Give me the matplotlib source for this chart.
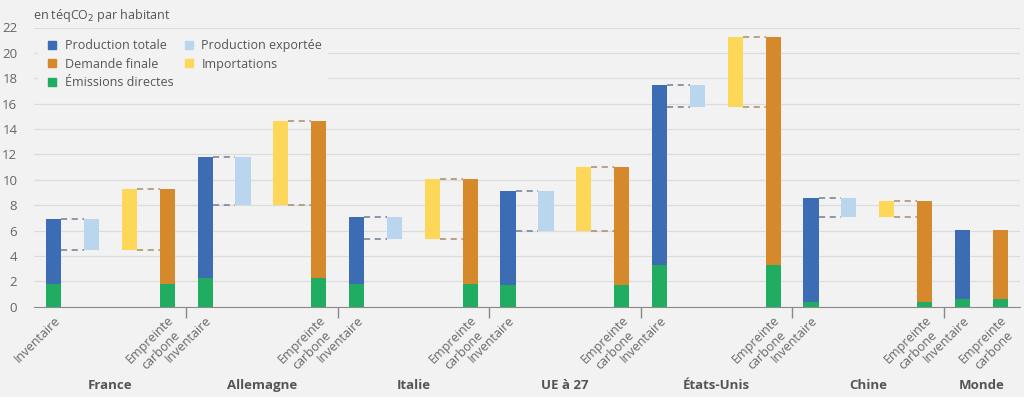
import matplotlib.pyplot as plt
import matplotlib.transforms as mtransforms
from matplotlib.lines import Line2D

plt.rcParams['font.family'] = ['Open Sans', 'DejaVu Sans']

# valeurs (téqCO2 par habitant)
pays = ['France', 'Allemagne', 'Italie', 'UE à 27', 'États-Unis', 'Chine', 'Monde']
production_totale = [6.9, 11.8, 7.05, 9.15, 17.5, 8.6, 6.05]
emissions_directes = [1.8, 2.3, 1.8, 1.7, 3.3, 0.4, 0.6]
production_domestique = [4.45, 8.0, 5.3, 5.95, 15.75, 7.1, None]
demande_finale = [9.3, 14.6, 10.05, 11.0, 21.25, 8.35, 6.05]

BLEU = '#3b6cb4'
BLEU_CLAIR = '#bad6ee'
ORANGE = '#d5892a'
JAUNE = '#fdd758'
VERT = '#20ad62'
FOND = '#f2f2f2'
GRIS = '#666666'

W = 0.4

fig = plt.figure(figsize=(10.24, 3.97), dpi=100, facecolor=FOND)
ax = fig.add_axes([34 / 1024, 90.3 / 397, 986 / 1024, 279.2 / 397])
ax.set_facecolor(FOND)

ticks = []
labels = []
for i, p in enumerate(pays):
    base = 4 * i
    inv = base
    emp = base + 3 if production_domestique[i] is not None else base + 1
    # inventaire
    ax.bar(inv, emissions_directes[i], W, color=VERT, zorder=3)
    ax.bar(inv, production_totale[i] - emissions_directes[i], W, bottom=emissions_directes[i], color=BLEU, zorder=3)
    # empreinte carbone
    ax.bar(emp, emissions_directes[i], W, color=VERT, zorder=3)
    ax.bar(emp, demande_finale[i] - emissions_directes[i], W, bottom=emissions_directes[i], color=ORANGE, zorder=3)
    dom = production_domestique[i]
    if dom is not None:
        ax.bar(base + 1, production_totale[i] - dom, W, bottom=dom, color=BLEU_CLAIR, zorder=3)
        ax.bar(base + 2, demande_finale[i] - dom, W, bottom=dom, color=JAUNE, zorder=3)
        for y in (production_totale[i], dom):
            ax.plot([base + W / 2, base + 1 - W / 2], [y, y], ls=(0, (4, 3)), color='#6f7f96', lw=1.1, zorder=2)
        for y in (demande_finale[i], dom):
            ax.plot([base + 2 + W / 2, base + 3 - W / 2], [y, y], ls=(0, (4, 3)), color='#a88d66', lw=1.1, zorder=2)
    ticks += [inv, emp]
    labels += ['Inventaire', 'Empreinte\ncarbone']
    # nom du pays
    trans = mtransforms.blended_transform_factory(ax.transData, fig.transFigure)
    ax.text((inv + emp) / 2, 8 / 397, p, transform=trans, ha='center', va='baseline',
            fontsize=9.5, fontweight='bold', color='#555555')

ax.set_xlim(-0.52, 25.52)
ax.set_ylim(0, 22)
ax.set_yticks(range(0, 23, 2))
ax.set_xticks(ticks)
ax.set_xticklabels(labels, rotation=45, ha='right', rotation_mode='anchor', fontsize=9, color=GRIS,
                   multialignment='center')
ax.set_xticks([3.5, 7.5, 11.5, 15.5, 19.5, 23.5], minor=True)
ax.tick_params(axis='x', which='major', length=0, pad=5)
ax.tick_params(axis='x', which='minor', length=8, color='#888888', width=1)
ax.tick_params(axis='y', length=0, labelsize=9.5, labelcolor=GRIS, pad=12)
ax.grid(axis='y', color='#dcdcdc', lw=0.9, zorder=0)
for s in ['top', 'right', 'left']:
    ax.spines[s].set_visible(False)
ax.spines['bottom'].set_color('#8a8a8a')
ax.spines['bottom'].set_zorder(4)

fig.text(33 / 1024, 1 - 15 / 397, 'en téqCO$_2$ par habitant', fontsize=9, color='#555555', va='center')

handles = [Line2D([], [], marker='s', ls='', color=c, markersize=6) for c in [BLEU, ORANGE, VERT, BLEU_CLAIR, JAUNE]]
noms = ['Production totale', 'Demande finale', 'Émissions directes', 'Production exportée', 'Importations']
leg = ax.legend(handles, noms, ncol=2, loc='upper left', bbox_to_anchor=(-0.002, 1.004), fontsize=9,
                facecolor=FOND, edgecolor='none', framealpha=1, handletextpad=0.4, columnspacing=0.65,
                labelspacing=0.45, borderpad=0.5, handlelength=1.2)
for t in leg.get_texts():
    t.set_color('#555555')
leg.set_zorder(5)

fig.savefig('out.png', dpi=100, facecolor=FOND)
